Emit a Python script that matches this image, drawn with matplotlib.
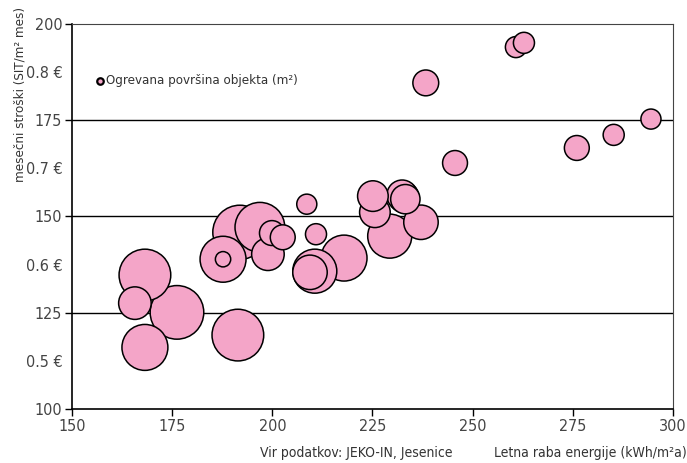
import matplotlib.pyplot as plt
import numpy as np

plt.rcParams['font.family'] = ['DejaVu Sans']
plt.rcParams['font.stretch'] = 'condensed'

# letna raba energije (kWh/m2a)
raba = [168.2, 165.7, 176.2, 168.2, 191.4, 187.7, 187.7, 191.9, 196.9, 198.9,
        199.9, 202.6, 208.6, 210.9, 217.9, 210.6, 209.4, 225.1, 225.6, 229.3,
        237.1, 232.4, 232.8, 233.2, 245.6, 238.3, 260.8, 262.8, 276.0, 285.2,
        294.5]
# mesecni stroski (SIT/m2 mes)
stroski = [134.8, 127.5, 125.1, 116.0, 119.2, 138.9, 138.9, 145.9, 147.2, 140.2,
           145.7, 144.6, 153.2, 145.4, 139.2, 135.8, 135.5, 155.3, 151.1, 144.9,
           148.5, 155.5, 155.0, 154.5, 163.9, 184.7, 194.0, 195.1, 167.8, 171.2,
           175.3]
# ogrevana povrsina objekta (m2)
povrsina = [1458, 578, 1568, 1152, 1458, 1152, 128, 1600, 1352, 578,
            338, 338, 220, 242, 1152, 1058, 648, 512, 512, 1058,
            648, 512, 512, 470, 338, 364, 242, 242, 338, 242,
            220]

y_ticks = [100, 125, 150, 175, 200]
eur_pos = [112.5, 137.5, 162.5, 187.5]
eur_labels = ['0.5 €', '0.6 €', '0.7 €', '0.8 €']

fig = plt.figure(figsize=(6.87, 4.63), dpi=100)
ax = fig.add_axes([0.1048, 0.1166, 0.8748, 0.8316])

order = np.argsort(povrsina)[::-1]
x = np.array(raba)[order]
y = np.array(stroski)[order]
s = np.array(povrsina)[order] * 0.95
ax.scatter(x, y, s=s, c='#F4A5C8', edgecolors='black', linewidths=1.1, zorder=3)

ax.set_xlim(150, 300)
ax.set_ylim(100, 200)
ax.set_xticks([150, 175, 200, 225, 250, 275, 300])
ax.set_yticks(y_ticks)
ax.set_yticks(eur_pos, minor=True)
ax.set_yticklabels(eur_labels, minor=True)
for v in [125, 150, 175]:
    ax.axhline(v, color='black', linewidth=1, zorder=1)

ax.tick_params(axis='both', which='major', direction='out', length=5, width=1,
               labelsize=11.5, labelcolor='#444444', pad=2)
ax.tick_params(axis='y', which='minor', length=0, labelsize=11.5,
               labelcolor='#444444', pad=7)
for sp in ax.spines.values():
    sp.set_linewidth(1.2)
ax.spines['top'].set_color('#444444')
ax.spines['right'].set_color('#444444')
ax.spines['top'].set_linewidth(0.8)
ax.spines['right'].set_linewidth(0.8)

# legenda
ax.scatter([157], [185.3], s=22, c='#F4A5C8', edgecolors='black', linewidths=1.6,
           zorder=4)
ax.text(158.6, 185.3, 'Ogrevana površina objekta (m²)', fontsize=9.5,
        color='#333333', va='center', ha='left')

fig.text(0.029, 0.795, 'mesečni stroški (SIT/m² mes)', rotation=90, fontsize=9.5,
         color='#333333', ha='center', va='center')
fig.text(0.999, 0.006, 'Letna raba energije (kWh/m²a)', fontsize=10,
         color='#333333', ha='right', va='bottom')
fig.text(0.518, 0.006, 'Vir podatkov: JEKO-IN, Jesenice', fontsize=10,
         color='#333333', ha='center', va='bottom')

fig.savefig('out.png', dpi=100)
